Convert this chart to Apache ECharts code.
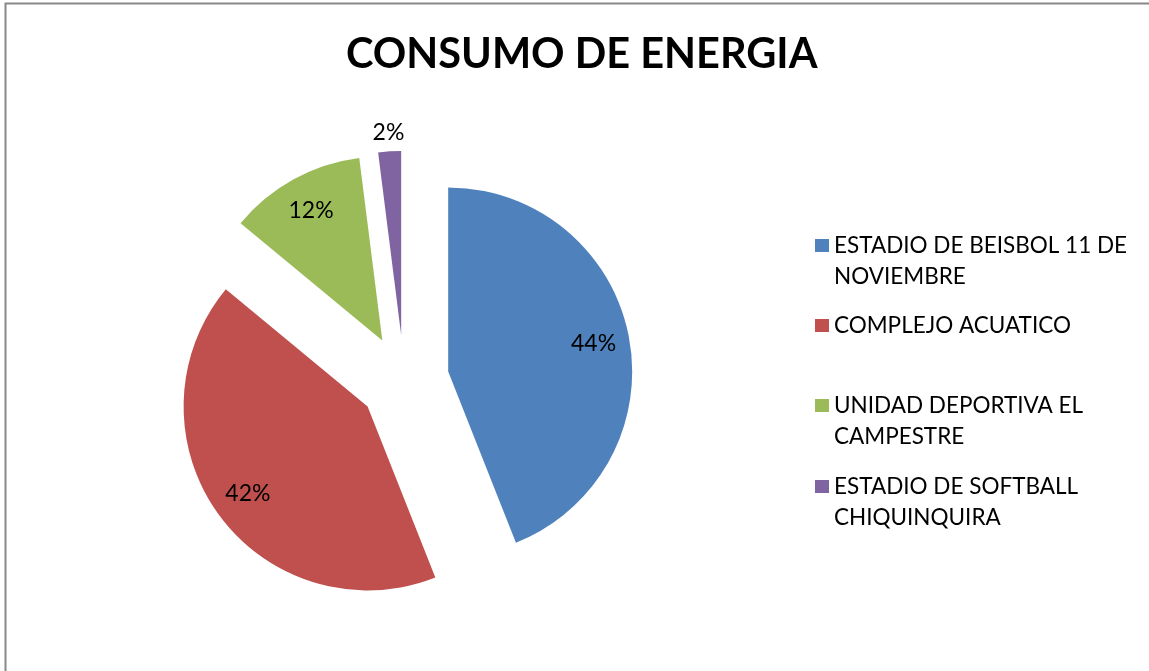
<!DOCTYPE html>
<html>
<head>
<meta charset="utf-8">
<script src="https://cdn.jsdelivr.net/npm/echarts@6/dist/echarts.min.js"></script>
<style>
  html, body { margin: 0; padding: 0; background: #fff; }
  #chart { width: 1149px; height: 671px; }
</style>
</head>
<body>
<div id="chart"></div>
<script>
// datos del grafico
const categorias = [
  'ESTADIO DE BEISBOL 11 DE\nNOVIEMBRE',
  'COMPLEJO ACUATICO',
  'UNIDAD DEPORTIVA EL\nCAMPESTRE',
  'ESTADIO DE SOFTBALL\nCHIQUINQUIRA'
]
const consumo = [44, 42, 12, 2]
const colores = ['#4F81BD', '#C0504D', '#9BBB59', '#8064A2']

const fuente = 'Lato, "Open Sans", sans-serif'
const centro = [404, 380]
const radio = 184
const separacion = 45

const datos = categorias.map((nombre, i) => ({
  name: nombre,
  value: consumo[i],
  selected: true,
  itemStyle: { color: colores[i] },
}))

// pie "fantasma" solo para colocar las etiquetas (encima del pie real)
const pieEtiquetas = (radios, mostrar) => ({
  type: 'pie',
  z: 5,
  silent: true,
  legendHoverLink: false,
  center: centro,
  radius: radios,
  selectedMode: 'multiple',
  selectedOffset: separacion,
  itemStyle: { color: 'rgba(0,0,0,0)' },
  select: { itemStyle: { color: 'rgba(0,0,0,0)', borderWidth: 0 } },
  emphasis: { disabled: true },
  labelLine: { show: false },
  label: {
    position: 'inside',
    color: '#000',
    fontFamily: fuente,
    fontSize: 23,
    formatter: (p) => Math.round(p.percent) + '%',
  },
  data: categorias.map((nombre, i) => ({
    name: nombre,
    value: consumo[i],
    selected: true,
    label: { show: mostrar[i] },
  })),
})

const topsLeyenda = [199, 310, 359, 440]
const leyendas = categorias.map((nombre, i) => {
  const dosLineas = nombre.indexOf('\n') >= 0
  return {
    orient: 'vertical',
    left: 815,
    top: topsLeyenda[i],
    padding: 0,
    icon: 'rect',
    itemWidth: 14,
    itemHeight: 13,
    selectedMode: false,
    data: [nombre],
    // linea vacia arriba para que el cuadro quede junto a la primera linea
    formatter: (n) => (dosLineas ? '\n' + n : n),
    textStyle: {
      color: '#000',
      fontFamily: fuente,
      fontSize: 22.5,
      lineHeight: 31,
    },
  }
})

const chart = echarts.init(document.getElementById('chart'))
chart.setOption({
  animation: false,
  backgroundColor: '#fff',
  title: {
    text: 'CONSUMO DE ENERGIA',
    left: 346,
    top: 34,
    padding: 0,
    textStyle: {
      fontFamily: fuente,
      fontWeight: 'bold',
      fontSize: 41.5,
      color: '#000',
    },
  },
  legend: leyendas,
  graphic: [
    {
      type: 'rect',
      silent: true,
      shape: { x: 5.5, y: 3.5, width: 1200, height: 700 },
      style: { fill: 'none', stroke: '#888', lineWidth: 2 },
    },
  ],
  series: [
    {
      type: 'pie',
      center: centro,
      radius: radio,
      startAngle: 90,
      selectedMode: 'multiple',
      selectedOffset: separacion,
      label: { show: false },
      labelLine: { show: false },
      emphasis: { scale: false },
      select: { itemStyle: { borderWidth: 0 } },
      data: datos,
    },
    pieEtiquetas([106, radio], [true, true, true, false]),
    pieEtiquetas([radio, 216], [false, false, false, true]),
  ],
})
</script>
</body>
</html>
